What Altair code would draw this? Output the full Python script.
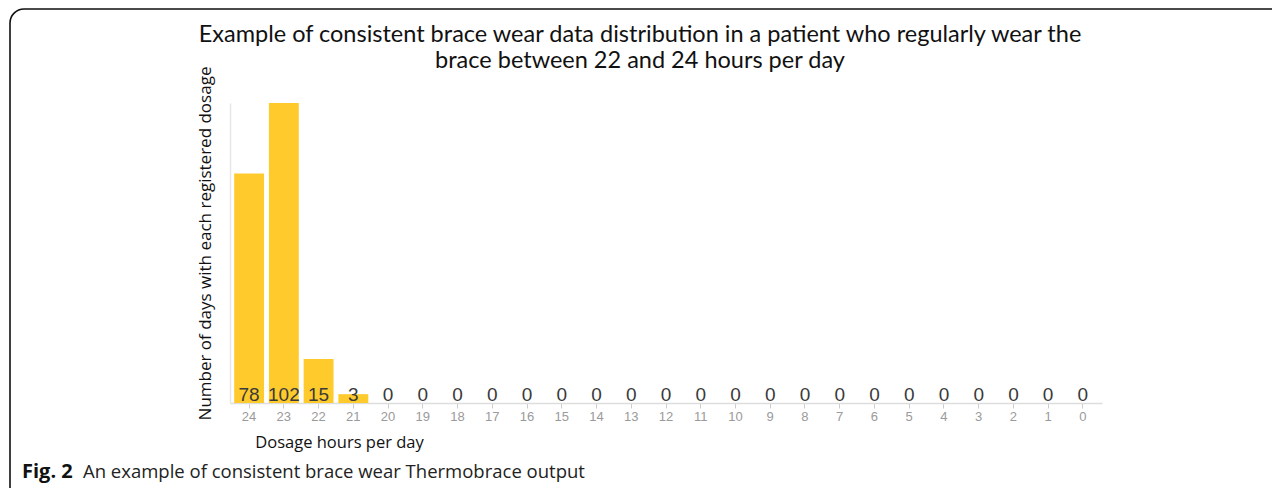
import altair as alt
import pandas as pd

hours = [str(h) for h in range(24, -1, -1)]
days = [78, 102, 15, 3] + [0] * 21

title_line1 = "Example of consistent brace wear data distribution in a patient who regularly wear the"
title_line2 = "brace between 22 and 24 hours per day"
x_title = "Dosage hours per day"
y_title = "Number of days with each registered dosage"
caption_bold = "Fig. 2"
caption_rest = "An example of consistent brace wear Thermobrace output"

df = pd.DataFrame({"hours": hours, "days": days})

base = alt.Chart(df)

x_enc = alt.X(
    "hours:N",
    sort=hours,
    scale=alt.Scale(paddingInner=0.14, paddingOuter=0.12),
    axis=alt.Axis(
        title=x_title,
        labelAngle=0,
        labelColor="#9a9a9a",
        labelFontSize=13,
        labelFont="Liberation Sans",
        labelPadding=2,
        tickColor="#cccccc",
        tickSize=5,
        domainColor="#dddddd",
        domainWidth=1.5,
        titleFont="Open Sans",
        titleFontSize=16.5,
        titleFontWeight="normal",
        titleColor="#111111",
        titleX=109,
        titleY=39,
        titleAlign="center",
        titleBaseline="middle",
    ),
)

y_enc = alt.Y(
    "days:Q",
    scale=alt.Scale(domain=[0, 102], nice=False),
    axis=alt.Axis(
        title=y_title,
        labels=False,
        ticks=False,
        grid=False,
        domainColor="#e6e6e6",
        domainWidth=1.5,
        titleFont="Open Sans",
        titleFontSize=17,
        titleFontWeight="normal",
        titleColor="#111111",
        titleAngle=-90,
        titleX=-25,
        titleY=140,
        titleAlign="center",
        titleBaseline="middle",
    ),
)

bars = base.mark_bar(color="#FFCA2C").encode(x=x_enc, y=y_enc)

labels = base.mark_text(
    baseline="middle",
    dy=-8,
    font="Liberation Sans",
    fontSize=19,
    color="#3a3a3a",
).encode(x=alt.X("hours:N", sort=hours), y=alt.datum(0), text="days:Q")

frame = alt.Chart(pd.DataFrame({"a": [0]})).mark_rect(
    fill=None,
    stroke="#111111",
    strokeWidth=1.6,
    cornerRadius=14,
).encode(
    x=alt.value(-220),
    x2=alt.value(1120),
    y=alt.value(-94),
    y2=alt.value(520),
)

def text_layer(txt, x, y, **kw):
    return alt.Chart(pd.DataFrame({"t": [txt]})).mark_text(
        baseline="middle", **kw
    ).encode(x=alt.value(x), y=alt.value(y), text="t:N")

t1 = text_layer(title_line1, 410, -68, align="center", font="Lato", fontSize=23.5, color="#111111")
t2 = text_layer(title_line2, 410, -42, align="center", font="Lato", fontSize=23.5, color="#111111")
cap1 = text_layer(caption_bold, -208, 369, align="left", font="Open Sans", fontSize=20,
                  fontWeight="bold", color="#111111")
cap2 = text_layer(caption_rest, -147, 369, align="left", font="Open Sans", fontSize=18.5,
                  color="#222222")

chart = alt.layer(frame, bars, labels, t1, t2, cap1, cap2).properties(
    width=872,
    height=300,
    background="white",
    padding={"left": 222, "top": 95, "right": 170, "bottom": 85},
    autosize=alt.AutoSizeParams(type="none"),
).configure_view(strokeWidth=0, stroke="transparent")

chart.save("out.html", embed_options={"renderer": "svg", "actions": False})
